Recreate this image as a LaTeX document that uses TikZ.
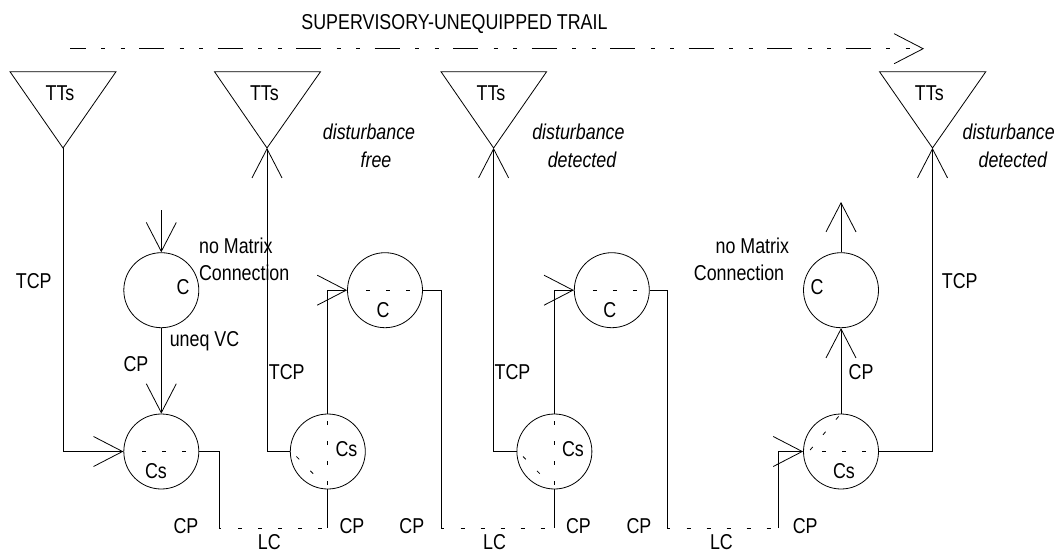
\documentclass[tikz,border=0pt]{standalone}
\usepackage{fontspec}
\setmainfont[FakeStretch=0.83]{Liberation Sans}
\usetikzlibrary{arrows.meta}
\tikzset{
  line/.style={line width=0.8pt,draw=black},
  ring/.style={circle,draw=black,line width=0.8pt,minimum size=75pt,inner sep=0pt},
  barb/.style={line,-{Straight Barb[length=29pt,width=30pt,line width=0.8pt]}},
  chord/.style={line,dash pattern=on 4pt off 16pt},
  trail/.style={line,dash pattern=on 25pt off 15.5pt on 4pt off 15.5pt on 4pt off 14.5pt,dash phase=9.5pt,-{Straight Barb[length=29pt,width=30pt,line width=0.8pt]}},
  lbl/.style={inner sep=0pt,font=\fontsize{21.5pt}{24pt}\selectfont,text=black},
  ilbl/.style={lbl,font=\fontsize{21.5pt}{24pt}\selectfont\itshape},
  tri/.style={line,line join=miter}
}
\begin{document}
\begin{tikzpicture}[x=1pt,y=-1pt]
\useasboundingbox (0,0) rectangle (1057,554);
% trail
\node[lbl,anchor=center] (title) at (454.5,23.7) {SUPERVISORY-UNEQUIPPED TRAIL};
\coordinate (trailA) at (70,48.7);
\coordinate (trailB) at (924,48.7);
\draw[trail] (trailA) -- (trailB);
% termination triangles
\coordinate (a1) at (63,148);
\coordinate (a2) at (267,148);
\coordinate (a3) at (493.6,148);
\coordinate (a4) at (932.5,148);
\draw[tri] (10,71.7) -- (116,71.7) -- (a1) -- cycle;
\draw[tri] (214.5,71.7) -- (320.5,71.7) -- (a2) -- cycle;
\draw[tri] (441,71.7) -- (546.6,71.7) -- (a3) -- cycle;
\draw[tri] (879.5,71.7) -- (985.8,71.7) -- (a4) -- cycle;
\node[lbl] (tt1) at (60,93) {TTs};
\node[lbl] (tt2) at (264.4,93) {TTs};
\node[lbl] (tt3) at (491,93) {TTs};
\node[lbl] (tt4) at (929.3,93) {TTs};
% circles
\node[ring] (c1) at (161.3,290.2) {};
\node[ring] (c2) at (385,290.2) {};
\node[ring] (c3) at (611.8,290.2) {};
\node[ring] (c4) at (841,290.2) {};
\node[ring] (s1) at (161.3,451.5) {};
\node[ring] (s2) at (327.8,451.5) {};
\node[ring] (s3) at (554.4,451.5) {};
\node[ring] (s4) at (841,451.5) {};
% corners
\coordinate (k1) at (219.4,528);
\coordinate (k2) at (441.5,528);
\coordinate (k3) at (667.6,528);
\coordinate (e1) at (s2.south |- k1);
\coordinate (e2) at (s3.south |- k1);
\coordinate (e3) at (778,528);
\coordinate (in1) at (161.3,210);
\coordinate (out4) at (841,202);
% connectors
\draw[barb] (a1) |- (s1.west);
\draw[barb] (s2.west) -| (a2);
\draw[barb] (s3.west) -| (a3);
\draw[barb] (s4.east) -| (a4);
\draw[barb] (in1) -- (c1.north);
\draw[barb] (c1.south) -- (s1.north);
\draw[barb] (s2.north) |- (c2.west);
\draw[barb] (s3.north) |- (c3.west);
\draw[barb] (s4.north) -- (c4.south);
\draw[barb] (c4.north) -- (out4);
\draw[barb] (e3) |- (s4.west);
\draw[line] (s1.east) -| (k1) -- ++(2,0);
\draw[line] (c2.east) -| (k2) -- ++(2,0);
\draw[line] (c3.east) -| (k3) -- ++(2,0);
\draw[line] (s2.south) -- (e1);
\draw[line] (s3.south) -- (e2);
% LC links
\draw[chord] ([xshift=19pt]k1) -- (e1);
\draw[chord] ([xshift=19pt]k2) -- (e2);
\draw[chord] ([xshift=19pt]k3) -- (e3);
% dashed chords in the matrices
\draw[chord] ([xshift=19pt]c2.west) -- (c2.east);
\draw[chord] ([xshift=19pt]c3.west) -- (c3.east);
\draw[chord] ([xshift=19pt]s1.west) -- (s1.east);
\draw[chord] ([xshift=19pt]s4.west) -- (s4.east);
\draw[chord] ([yshift=12.5pt]s2.north) -- (s2.south);
\draw[chord] ([yshift=12.5pt]s3.north) -- (s3.south);
\draw[chord] ([shift={(6.5,5)}]s2.west) -- ([shift={(-11,-12)}]s2.south);
\draw[chord] ([shift={(6.5,5)}]s3.west) -- ([shift={(-11,-12)}]s3.south);
\draw[chord] ([shift={(7,-1.5)}]s4.west) -- (s4.north);
% function labels
\node[lbl] (lc1) at (183,287.5) {C};
\node[lbl] (lc2) at (383,310) {C};
\node[lbl] (lc3) at (609.8,310) {C};
\node[lbl] (lc4) at (817,287.5) {C};
\node[lbl] (ls1) at (156,470.7) {Cs};
\node[lbl] (ls2) at (346.5,449) {Cs};
\node[lbl] (ls3) at (573,449) {Cs};
\node[lbl] (ls4) at (844,470.7) {Cs};
% italic notes
\node[ilbl] (d1) at (369,132) {disturbance};
\node[ilbl] (d1b) at (376,159.6) {free};
\node[ilbl] (d2) at (578.4,132) {disturbance};
\node[ilbl] (d2b) at (582,159.6) {detected};
\node[ilbl] (d3) at (1008.7,132) {disturbance};
\node[ilbl] (d3b) at (1012.8,159.6) {detected};
% other labels
\node[lbl] (m1) at (235.8,246) {no Matrix};
\node[lbl] (m1b) at (244.2,273) {Connection};
\node[lbl] (m2) at (752.3,246) {no Matrix};
\node[lbl] (m2b) at (739,273) {Connection};
\node[lbl] (u) at (204.5,341) {uneq VC};
\node[lbl] (t1) at (33.8,281) {TCP};
\node[lbl] (t2) at (286.7,372) {TCP};
\node[lbl] (t3) at (512.5,372) {TCP};
\node[lbl] (t4) at (959.7,281) {TCP};
\node[lbl] (p0) at (136,364) {CP};
\node[lbl] (p1) at (186,526) {CP};
\node[lbl] (p2) at (352,526) {CP};
\node[lbl] (p3) at (411.8,526) {CP};
\node[lbl] (p4) at (578.4,526) {CP};
\node[lbl] (p5) at (639,526) {CP};
\node[lbl] (p6) at (805.2,526) {CP};
\node[lbl] (p7) at (861,372) {CP};
\node[lbl] (l1) at (269.4,542.5) {LC};
\node[lbl] (l2) at (494.6,542.5) {LC};
\node[lbl] (l3) at (721.4,542.5) {LC};
\end{tikzpicture}
\end{document}
